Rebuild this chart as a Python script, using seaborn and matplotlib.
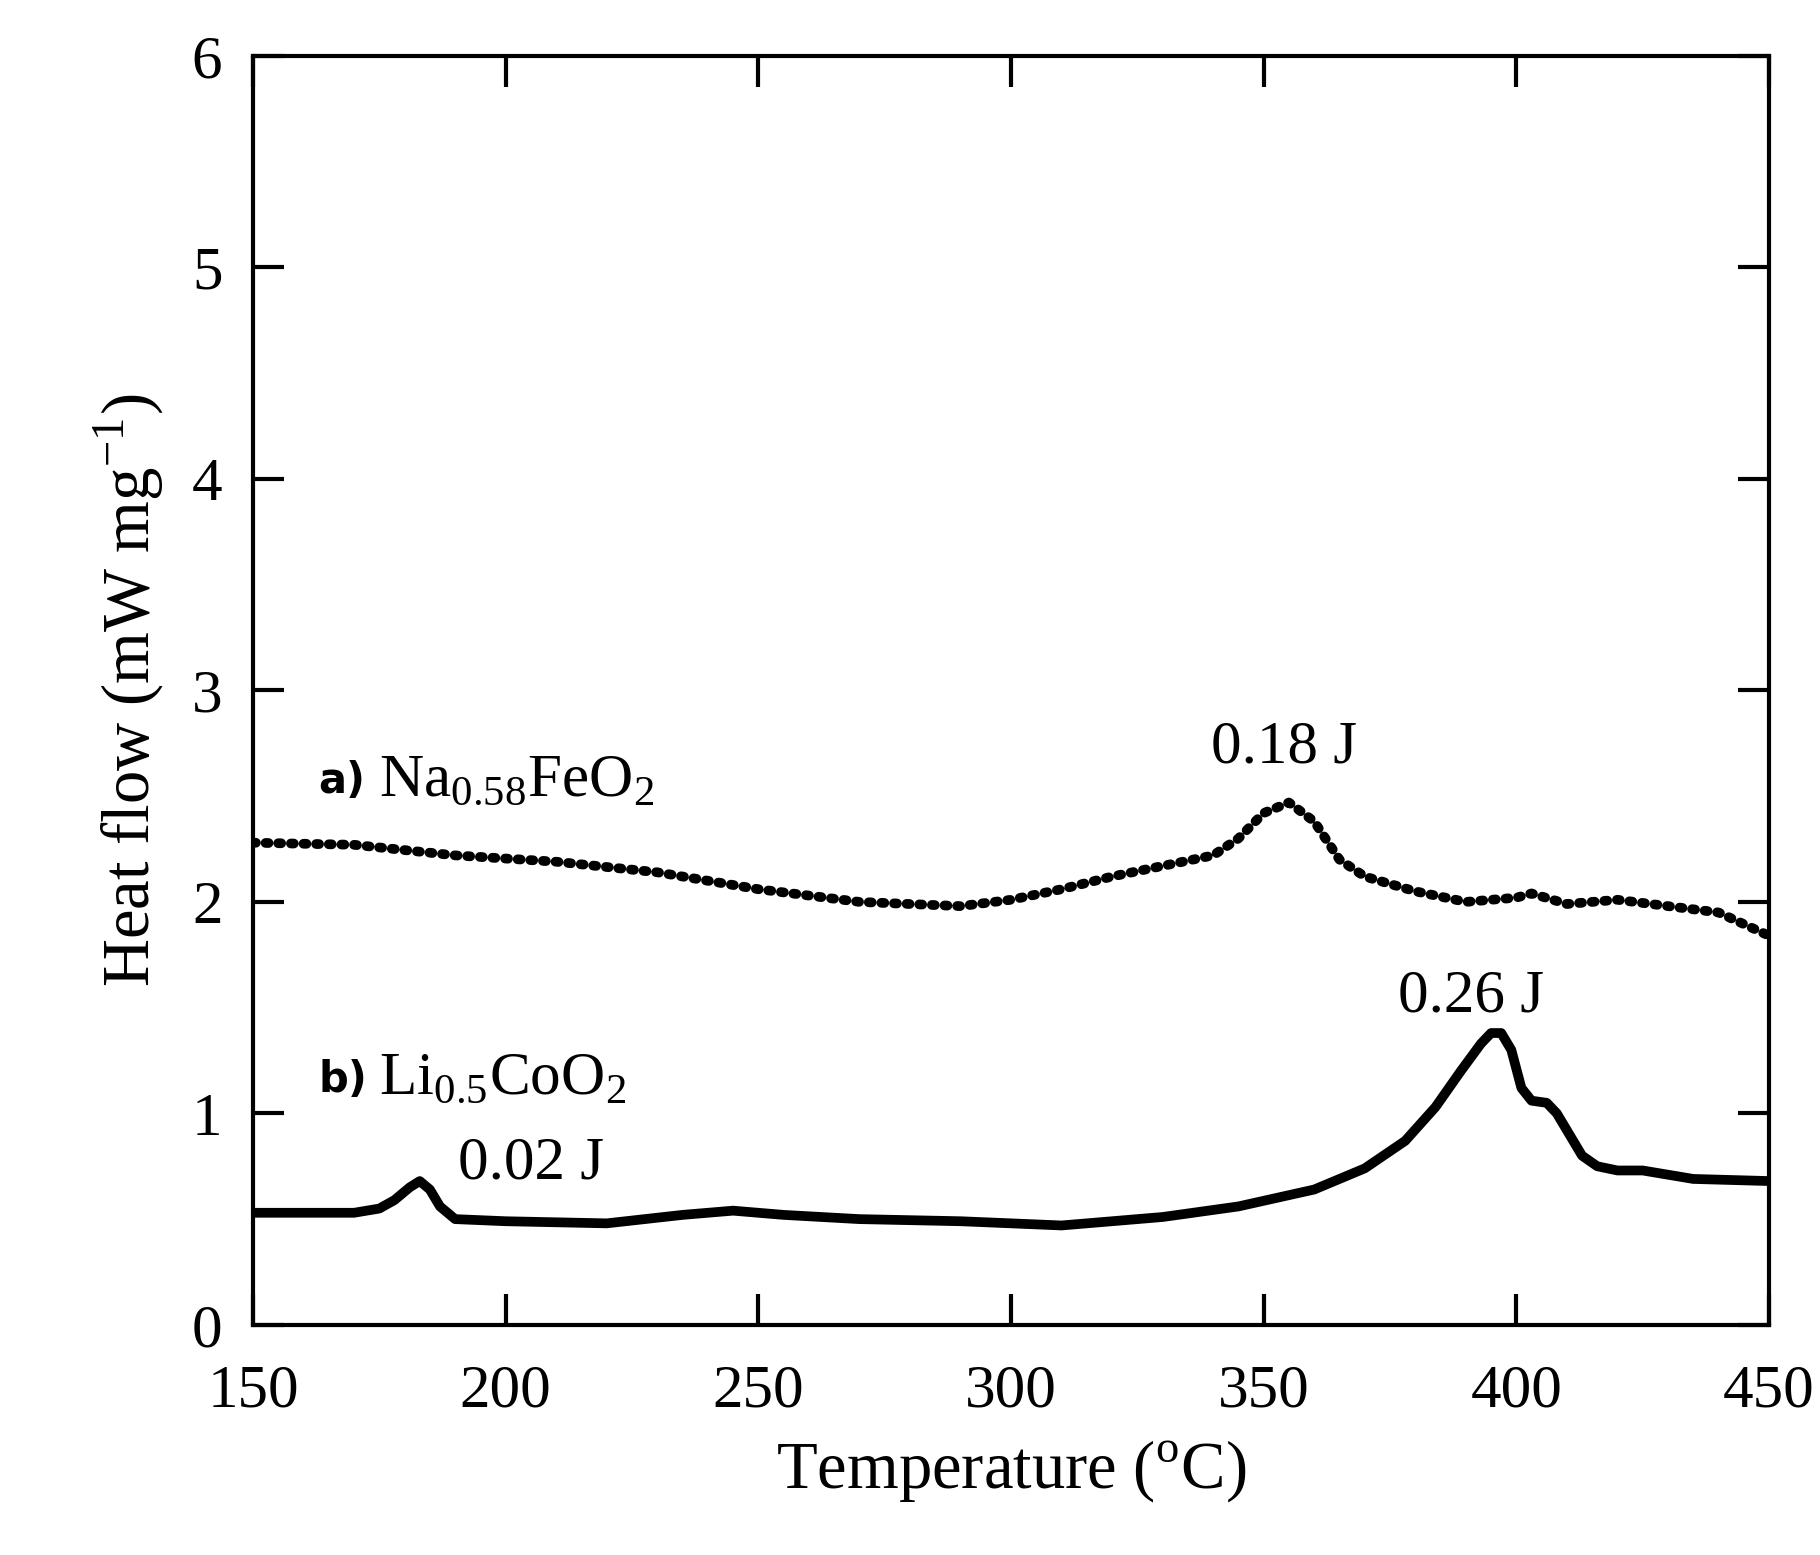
import matplotlib
matplotlib.use("Agg")
import matplotlib.pyplot as plt
import seaborn as sns
import pandas as pd

temp_a = [150,170,190,210,230,250,270,290,300,310,320,330,340,345,350,355,360,365,370,380,390,400,403,410,420,430,440,450]
heat_a = [2.28,2.27,2.22,2.19,2.14,2.06,2.0,1.98,2.01,2.06,2.12,2.17,2.22,2.3,2.42,2.47,2.38,2.2,2.12,2.05,2.0,2.02,2.04,1.99,2.01,1.98,1.95,1.84]
temp_b = [150,170,175,178,181,183,185,187,190,200,220,235,245,255,270,290,310,330,345,360,370,378,384,389,393,395,397,399,401,403,406,408,410,413,416,420,425,435,450]
heat_b = [0.53,0.53,0.55,0.59,0.65,0.68,0.64,0.56,0.5,0.49,0.48,0.52,0.54,0.52,0.5,0.49,0.47,0.51,0.56,0.64,0.74,0.87,1.03,1.2,1.33,1.38,1.38,1.3,1.12,1.06,1.05,1.0,0.92,0.8,0.75,0.73,0.73,0.69,0.68]
xticks = [150,200,250,300,350,400,450]
yticks = [0,1,2,3,4,5,6]

sns.set_style("ticks")
plt.rcParams["font.family"] = "Liberation Serif"
plt.rcParams["mathtext.fontset"] = "custom"
plt.rcParams["mathtext.rm"] = "Liberation Serif"
plt.rcParams["text.color"] = "black"
plt.rcParams["axes.labelcolor"] = "black"
plt.rcParams["xtick.color"] = "black"
plt.rcParams["ytick.color"] = "black"

fig = plt.figure(figsize=(18.2, 15.55), dpi=100)
ax = fig.add_axes([0.139, 0.148, 0.833, 0.816])
sns.lineplot(data=pd.DataFrame({"T": temp_a, "H": heat_a}), x="T", y="H", ax=ax,
             color="black", lw=7, linestyle=(0, (0.3, 1.0)), dash_capstyle="round")
sns.lineplot(data=pd.DataFrame({"T": temp_b, "H": heat_b}), x="T", y="H", ax=ax,
             color="black", lw=7, solid_capstyle="round", solid_joinstyle="round")
ax.set_xlim(150, 450); ax.set_ylim(0, 6)
ax.set_xticks(xticks); ax.set_yticks(yticks)
ax.tick_params(direction="in", length=22, width=3, top=True, right=True, labelsize=44)
ax.tick_params(axis="x", pad=28)
ax.tick_params(axis="y", pad=22)
for s in ax.spines.values():
    s.set_linewidth(3); s.set_color("black")
ax.set_xlabel("Temperature ($^{\\rm o}$C)", fontsize=48, labelpad=14)
ax.set_ylabel("Heat flow (mW mg$^{-1}$)", fontsize=48, labelpad=18)

ax.text(163, 2.57, "a)", fontsize=30, fontweight="bold", family="DejaVu Sans", va="center")
ax.text(175, 2.57, "Na$_{0.58}$FeO$_2$", fontsize=44, va="center")
ax.text(163, 1.16, "b)", fontsize=30, fontweight="bold", family="DejaVu Sans", va="center")
ax.text(175, 1.16, "Li$_{0.5}$CoO$_2$", fontsize=44, va="center")
ax.text(354, 2.73, "0.18 J", fontsize=44, ha="center", va="center")
ax.text(391, 1.55, "0.26 J", fontsize=44, ha="center", va="center")
ax.text(205, 0.76, "0.02 J", fontsize=44, ha="center", va="center")
fig.savefig("out.png", dpi=100)
